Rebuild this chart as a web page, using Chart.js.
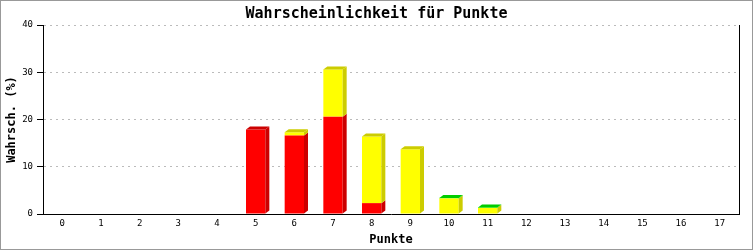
<!DOCTYPE html>
<html>
<head>
<meta charset="utf-8">
<script src="https://cdn.jsdelivr.net/npm/chart.js@4"></script>
<style>
  html, body { margin: 0; padding: 0; background: #fff; }
  canvas { display: block; }
</style>
</head>
<body>
<canvas id="chart" width="753" height="250"></canvas>
<script>
const points = ["0", "1", "2", "3", "4", "5", "6", "7", "8", "9", "10", "11", "12", "13", "14", "15", "16", "17"];
const redValues = [0, 0, 0, 0, 0, 17.9, 16.6, 20.6, 2.3, 0, 0, 0, 0, 0, 0, 0, 0, 0];
const yellowValues = [0, 0, 0, 0, 0, 0, 0.7, 10.0, 14.1, 13.7, 3.3, 1.3, 0, 0, 0, 0, 0, 0];
const greenValues = [0, 0, 0, 0, 0, 0, 0, 0, 0, 0, 0.1, 0.1, 0, 0, 0, 0, 0, 0];
const yTicks = [0, 10, 20, 30, 40];

const mono = "'DejaVu Sans Mono', 'Liberation Mono', monospace";
const frontColors = ["#ff0000", "#ffff00", "#00ff00"];
const shadeColors = ["#cc0000", "#cccc00", "#00cc00"];

// white background + grey frame round the whole picture
const framePlugin = {
    id: "frame",
    beforeDraw(chart) {
        const { ctx, width, height } = chart;
        ctx.save();
        ctx.fillStyle = "#fff";
        ctx.fillRect(0, 0, width, height);
        ctx.restore();
    },
    afterDraw(chart) {
        const { ctx, width, height, chartArea } = chart;
        ctx.save();
        ctx.strokeStyle = "#000";
        ctx.lineWidth = 1;
        ctx.beginPath();
        ctx.moveTo(Math.round(chartArea.right) + 0.5, chartArea.top);
        ctx.lineTo(Math.round(chartArea.right) + 0.5, chartArea.bottom + 0.5);
        ctx.stroke();
        ctx.strokeStyle = "#999";
        ctx.strokeRect(0.5, 0.5, width - 1, height - 1);
        ctx.restore();
    },
};

// fake 3D: right side and top face for each stacked bar
const depthPlugin = {
    id: "depth",
    afterDatasetsDraw(chart) {
        const ctx = chart.ctx;
        const dx = 4;
        const dy = 3;
        ctx.save();
        chart.data.labels.forEach((label, i) => {
            let topIndex = -1;
            chart.data.datasets.forEach((ds, d) => {
                if (ds.data[i] > 0) topIndex = d;
            });
            chart.data.datasets.forEach((ds, d) => {
                if (!(ds.data[i] > 0)) return;
                const bar = chart.getDatasetMeta(d).data[i];
                const { x, y, base, width } = bar.getProps(["x", "y", "base", "width"], true);
                const l = x - width / 2;
                const r = x + width / 2;
                ctx.fillStyle = shadeColors[d];
                ctx.beginPath();
                ctx.moveTo(r, y);
                ctx.lineTo(r + dx, y - dy);
                ctx.lineTo(r + dx, base - dy);
                ctx.lineTo(r, base);
                ctx.closePath();
                ctx.fill();
                if (d === topIndex) {
                    ctx.beginPath();
                    ctx.moveTo(l, y);
                    ctx.lineTo(l + dx, y - dy);
                    ctx.lineTo(r + dx, y - dy);
                    ctx.lineTo(r, y);
                    ctx.closePath();
                    ctx.fill();
                }
            });
        });
        ctx.restore();
    },
};

function makeSet(values, idx) {
    return {
        data: values,
        backgroundColor: frontColors[idx],
        borderWidth: 0,
        barPercentage: 0.5,
        categoryPercentage: 1,
    };
}

new Chart(document.getElementById("chart"), {
    type: "bar",
    data: {
        labels: points,
        datasets: [makeSet(redValues, 0), makeSet(yellowValues, 1), makeSet(greenValues, 2)],
    },
    plugins: [framePlugin, depthPlugin],
    options: {
        responsive: false,
        animation: false,
        layout: { padding: 0 },
        plugins: {
            legend: { display: false },
            tooltip: { enabled: false },
            title: {
                display: true,
                text: "Wahrscheinlichkeit für Punkte",
                color: "#000",
                font: { family: mono, size: 15, weight: "bold" },
                padding: { top: 5, bottom: 2 },
            },
        },
        scales: {
            x: {
                stacked: true,
                grid: { display: false, drawTicks: false },
                border: { display: true, color: "#000", width: 1 },
                ticks: { color: "#000", font: { family: mono, size: 9 }, padding: 4, maxRotation: 0 },
                title: {
                    display: true,
                    text: "Punkte",
                    color: "#000",
                    font: { family: mono, size: 12, weight: "bold" },
                    padding: { top: 0, bottom: 3 },
                },
                afterFit(scale) {
                    scale.height = 36;
                },
            },
            y: {
                stacked: true,
                min: yTicks[0],
                max: yTicks[yTicks.length - 1],
                afterBuildTicks(scale) {
                    scale.ticks = yTicks.map((v) => ({ value: v }));
                },
                grid: {
                    color: "#bbbbbb",
                    lineWidth: 1,
                    tickColor: "#000",
                    tickLength: 6,
                    tickBorderDash: [],
                },
                border: { display: true, color: "#000", width: 1, dash: [2, 4] },
                ticks: { color: "#000", font: { family: mono, size: 9 }, padding: 4 },
                title: {
                    display: true,
                    text: "Wahrsch. (%)",
                    color: "#000",
                    font: { family: mono, size: 12, weight: "bold" },
                    padding: { top: 5, bottom: 0 },
                },
                afterFit(scale) {
                    scale.width = 43;
                },
            },
            // empty right-hand margin so the title stays centred on the full width
            margin: {
                type: "linear",
                position: "right",
                grid: { display: false, drawTicks: false },
                border: { display: false },
                ticks: { display: false },
                afterFit(scale) {
                    scale.width = 14;
                },
            },
        },
    },
});
</script>
</body>
</html>
